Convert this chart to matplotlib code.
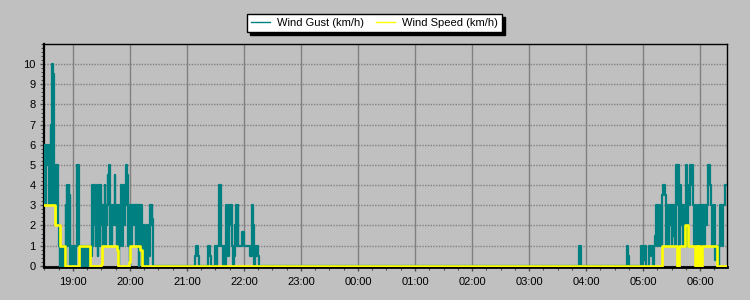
import matplotlib
matplotlib.use("Agg")
import matplotlib.pyplot as plt
from matplotlib.ticker import MultipleLocator
from matplotlib.lines import Line2D

plt.rcParams['font.family'] = ['Liberation Sans', 'DejaVu Sans']

# ---- data (time = minutes after 18:00) ----
x_start = 29.5
x_end = 748.4

hour_ticks = [60, 120, 180, 240, 300, 360, 420, 480, 540, 600, 660, 720]
hour_labels = ['19:00', '20:00', '21:00', '22:00', '23:00', '00:00',
               '01:00', '02:00', '03:00', '04:00', '05:00', '06:00']

gust_t = [29.5, 31, 31.5, 33, 33.5, 35, 35.5, 36, 36.5, 37.3, 37.8, 38.8, 39.8, 40.3,
          41.3, 41.8, 42.8, 43.3, 43.8, 44.3, 45.3, 46.3, 46.8, 47.8, 48.3, 49, 50.5, 51,
          52.5, 53, 53.7, 54.2, 54.7, 55.3, 56, 56.5, 57.2, 57.8, 58.5, 59.5, 60, 61.5, 62,
          63, 64, 64.7, 65.3, 66, 66.5, 67, 68, 69, 70, 71, 72, 73, 74, 75, 76, 77, 78, 79,
          80, 80.7, 81.3, 82, 82.7, 83.3, 84, 84.7, 85.3, 86, 86.7, 87.3, 88, 88.7, 89.3,
          90, 90.7, 91.3, 92, 92.7, 93.3, 94, 94.7, 95.3, 96, 96.7, 97.3, 98, 98.7, 99.3,
          100, 100.7, 101.3, 102, 102.7, 103.3, 104, 104.7, 105.3, 106, 106.7, 107.3, 108,
          108.7, 109.3, 110, 111, 111.7, 112.3, 113, 114, 115, 116.3, 117, 117.7, 118,
          118.7, 119.5, 120, 121, 121.7, 124, 124.7, 126, 126.7, 128, 128.7, 129.5, 130,
          131, 131.7, 132.7, 133.3, 134, 134.7, 135.3, 136, 137, 138, 138.7, 139.3, 140,
          141, 142, 142.8, 143.5, 144.3,
          188.4, 189.5, 191.9, 193, 202.4, 204.2, 205.3, 209.5, 211.3, 211.9, 213.7, 215.5,
          217.9, 218.9, 220.5, 221, 222.1, 223.2, 224.2, 225.3, 226.3, 227.4, 228.4, 229.5,
          230.5, 231.6, 232.6, 233.2, 234, 238.3, 240, 246.3, 248.1, 249.8, 250.5, 251.6,
          252.6, 254, 255, 256.1,
          593, 594.5,
          643, 644.5, 645.5, 657.5, 658.5, 659.5, 661, 662, 663, 666.5, 668, 669, 670.5,
          671.3, 672.5, 673.5, 674.5, 675.3, 676.5, 677.5, 678.5, 679.5, 680.5, 681.5, 683,
          684, 685, 686.5, 687.3, 688, 689, 690, 691, 692, 693, 694, 695, 696.5, 697.3, 698,
          699, 700, 700.8, 702, 703, 704, 705, 706, 707, 708, 709, 710.5, 711.5, 712.5,
          713.5, 714.5, 715.5, 717, 718, 719, 720, 721, 722, 724, 725, 726.5, 727.5, 728.5,
          731, 732, 733, 734.5, 735.5, 738, 739.5, 740.5, 741.2, 743, 744, 746.5]
gust_v = [6, 3, 6, 5, 6, 3, 5, 3, 7, 3, 10, 9.5, 3, 5,
          3, 5, 3, 5, 3, 2, 1, 0, 1, 0, 1, 0, 1, 0,
          3, 1, 4, 1, 3, 4, 1, 3.5, 0, 1, 0, 1, 0, 1, 0,
          1, 5, 3, 5, 4, 1, 0, 1, 0, 1, 0, 1, 0, 1, 0, 1, 0, 1, 0.5,
          4, 1, 3, 4, 2, 3.8, 1, 3, 4, 0.5, 3, 4, 1, 3, 4,
          2, 3, 1, 3, 2, 4, 1, 3, 2, 3, 4.5, 3, 5, 2, 1,
          3, 1, 2, 3, 2, 3, 4.5, 2, 3, 1, 2, 3, 0,
          1, 3, 2, 4, 1, 3, 4, 2, 3, 5, 4.5, 3, 1,
          3, 0, 3, 1, 3, 2, 3, 1, 3, 1, 3, 0, 3,
          1, 3, 0, 1, 0, 2, 1, 0, 1, 2, 0, 1, 0.5,
          3, 2, 3, 2.3, 0,
          0.5, 1, 0.5, 0, 1, 0.5, 0, 1, 0, 1, 4, 1,
          0, 1, 0, 3, 1, 0.5, 3, 2, 3, 1, 0, 0.5,
          2, 3, 1, 3, 1, 1.7, 1, 0.5, 3, 2, 0, 1,
          0.5, 1, 0.5, 0,
          1, 0,
          1, 0.5, 0, 1, 0, 1, 0.3, 1, 0, 1, 0.5, 1, 0,
          1, 1.5, 3, 1, 3, 2, 1, 3, 1, 3.5, 4, 3.5,
          1, 3, 1, 3, 2, 3, 1, 3, 1.5, 3, 1, 5, 3, 5, 1,
          4, 2, 3, 1, 3, 2, 5, 1, 4, 3, 5, 4, 5, 3,
          1, 3, 0, 1, 3, 1, 3, 0.5, 3, 1, 3, 2, 3, 5,
          4, 3, 1, 3, 0.3, 1, 0, 1, 3, 1, 3, 4]

speed_t = [29.5, 41, 46, 51.5, 66.5, 77.5, 90, 90.5, 106.5, 107.8, 118.5, 119.5, 130.5,
           132.5, 680, 695.8, 697.9, 704.2, 707.4, 714.7, 716.5, 717.3, 718.4, 719.5,
           722.1, 737.9]
speed_v = [3, 2, 1, 0, 1, 0, 0.1, 1, 0.8, 0, 0.2, 1, 0.8,
           0, 1, 0, 1, 2, 1, 0, 1, 0, 1, 0,
           1, 0]

series_names = ['Wind Gust (km/h)', 'Wind Speed (km/h)']

# ---- styling ----
BG = '#C0C0C0'
TEAL = '#008080'
YELLOW = '#FFFF00'
GRID = '#808080'

fig = plt.figure(figsize=(7.5, 3), dpi=100, facecolor=BG)
ax = fig.add_axes([44 / 750, 33 / 300, 683 / 750, 223 / 300])
ax.set_facecolor(BG)

ax.step(gust_t + [x_end], gust_v + [gust_v[-1]], where='post',
        color=TEAL, lw=1.6, zorder=3)
ax.step(speed_t + [x_end], speed_v + [speed_v[-1]], where='post',
        color=YELLOW, lw=1.9, zorder=4)

ax.set_xlim(x_start, x_end)
ax.set_ylim(-0.06, 11)

ax.set_xticks(hour_ticks)
ax.set_xticklabels(hour_labels)
ax.xaxis.set_minor_locator(MultipleLocator(15))
ax.set_yticks(range(0, 11))
ax.yaxis.set_minor_locator(MultipleLocator(0.2))

ax.tick_params(axis='both', which='major', labelsize=8, colors='black',
               length=3, width=1, direction='out')
ax.tick_params(axis='x', which='major', pad=4, color='#505050')
ax.tick_params(axis='y', which='major', pad=3, color='#505050')
ax.tick_params(axis='both', which='minor', length=2.5, width=0.8, color='#505050')

ax.grid(True, axis='x', which='major', color=GRID, lw=1, ls='-', zorder=1)
ax.grid(True, axis='y', which='major', color=GRID, lw=1, ls=(0, (1, 1)), zorder=1)
ax.set_axisbelow(True)

for side in ['top', 'right']:
    ax.spines[side].set_color('black')
    ax.spines[side].set_linewidth(1)
ax.spines['left'].set_linewidth(1.6)
ax.spines['bottom'].set_linewidth(2)
ax.spines['left'].set_color('black')
ax.spines['bottom'].set_color('black')
ax.spines['bottom'].set_zorder(2)

handles = [Line2D([], [], color=TEAL, lw=1), Line2D([], [], color=YELLOW, lw=1)]
leg = fig.legend(handles, series_names, loc='center', bbox_to_anchor=(0.4993, 0.923),
                 ncol=2, frameon=True, fancybox=False, fontsize=8,
                 handlelength=1.75, handletextpad=0.65, columnspacing=1.0,
                 borderpad=0.35, borderaxespad=0,
                 shadow={'color': 'black', 'alpha': 1})
leg.get_frame().set_edgecolor('black')
leg.get_frame().set_facecolor('white')
leg.get_frame().set_alpha(1)
leg.get_frame().set_linewidth(1)

fig.savefig('out.png', dpi=100, facecolor=BG)
